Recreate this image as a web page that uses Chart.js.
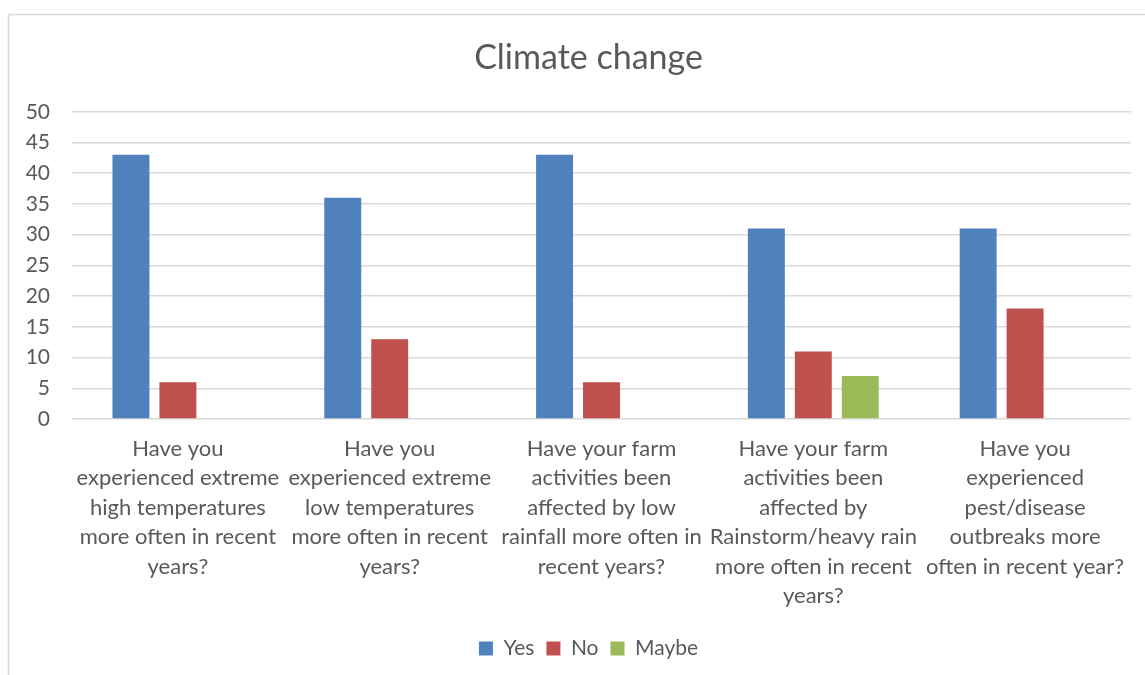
<!DOCTYPE html>
<html>
<head>
<meta charset="utf-8">
<title>Climate change</title>
<script src="https://cdn.jsdelivr.net/npm/chart.js@4.4.1/dist/chart.umd.min.js"></script>
<style>
  html, body { margin: 0; padding: 0; background: #fff; }
  #wrap { width: 1145px; height: 675px; }
</style>
</head>
<body>
<div id="wrap"><canvas id="climateChart" width="1145" height="675"></canvas></div>
<script>
// survey questions, one array of lines per question
const questions = [
  ['Have you', 'experienced extreme', 'high temperatures', 'more often in recent', 'years?'],
  ['Have you', 'experienced extreme', 'low temperatures', 'more often in recent', 'years?'],
  ['Have your farm', 'activities been', 'affected by low', 'rainfall more often in', 'recent years?'],
  ['Have your farm', 'activities been', 'affected by', 'Rainstorm/heavy rain', 'more often in recent', 'years?'],
  ['Have you', 'experienced', 'pest/disease', 'outbreaks more', 'often in recent year?']
];
const yesCounts = [43, 36, 43, 31, 31];
const noCounts = [6, 13, 6, 11, 18];
const maybeCounts = [null, null, null, 7, null];
const yTicks = [0, 5, 10, 15, 20, 25, 30, 35, 40, 45, 50];

const textColor = '#595959';
const gridColor = '#d9d9d9';
const fontFamily = 'Lato, "Open Sans", sans-serif';
const frameLeft = 8;

// thin grey frame round the chart, like an Excel chart object
const framePlugin = {
  id: 'frame',
  beforeDraw(chart) {
    const ctx = chart.ctx;
    ctx.save();
    ctx.fillStyle = '#fff';
    ctx.fillRect(0, 0, chart.width, chart.height);
    ctx.strokeStyle = gridColor;
    ctx.lineWidth = 1.5;
    ctx.strokeRect(frameLeft + 0.5, 14.5, 1300, 1000);
    ctx.restore();
  }
};

// title and legend are centred on the frame, which runs past the right edge
const centrePlugin = {
  id: 'centreBlocks',
  afterLayout(chart) {
    const shift = 46;
    [chart.titleBlock, chart.legend].forEach(box => {
      if (box) { box.left += shift; }
    });
  }
};

const ctx = document.getElementById('climateChart').getContext('2d');
new Chart(ctx, {
  type: 'bar',
  data: {
    labels: questions,
    datasets: [
      { label: 'Yes', data: yesCounts, backgroundColor: '#4f81bd' },
      { label: 'No', data: noCounts, backgroundColor: '#c0504d' },
      { label: 'Maybe', data: maybeCounts, backgroundColor: '#9bbb59' }
    ]
  },
  options: {
    responsive: false,
    animation: false,
    categoryPercentage: 0.665,
    barPercentage: 0.787,
    layout: { padding: { top: 14, left: 0, right: 14, bottom: 6 } },
    plugins: {
      title: {
        display: true,
        text: 'Climate change',
        color: textColor,
        font: { family: fontFamily, size: 34, weight: 'normal', lineHeight: 1.2 },
        padding: { top: 24, bottom: 33 }
      },
      legend: {
        position: 'bottom',
        labels: {
          color: textColor,
          font: { family: fontFamily, size: 21 },
          boxWidth: 14,
          boxHeight: 14,
          padding: 12
        }
      },
      tooltip: { enabled: false }
    },
    scales: {
      x: {
        grid: { display: false, drawTicks: false, tickLength: 0 },
        border: { display: false },
        ticks: {
          color: textColor,
          font: { family: fontFamily, size: 22, lineHeight: 1.34 },
          maxRotation: 0,
          minRotation: 0,
          autoSkip: false,
          padding: 15
        },
        afterFit(scale) { scale.height = 207; }
      },
      y: {
        min: 0,
        max: 50,
        afterBuildTicks(scale) { scale.ticks = yTicks.map(v => ({ value: v })); },
        grid: { color: gridColor, lineWidth: 1.5, drawTicks: false },
        border: { display: false },
        ticks: {
          color: textColor,
          font: { family: fontFamily, size: 21 },
          padding: 22
        },
        afterFit(scale) { scale.width = 72; }
      }
    }
  },
  plugins: [framePlugin, centrePlugin]
});
</script>
</body>
</html>
